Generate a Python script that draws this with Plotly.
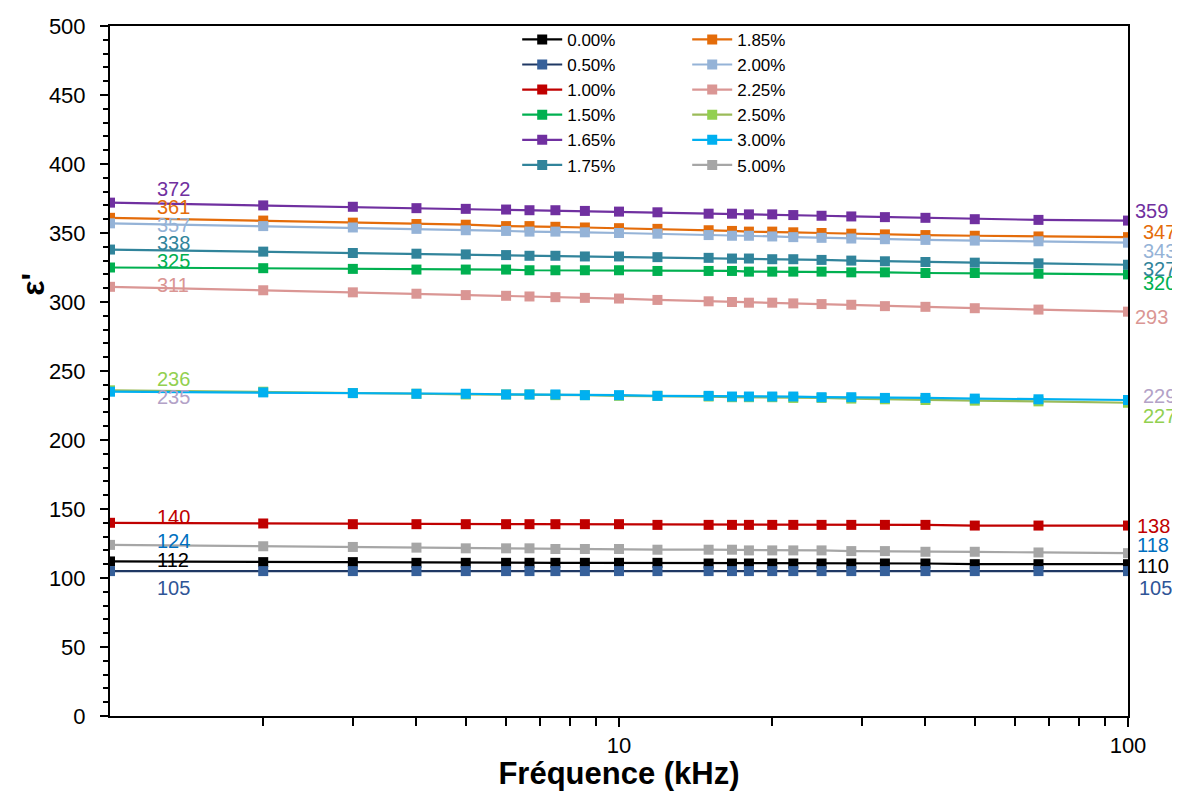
import plotly.graph_objects as go
import math

freq_khz = [1, 2, 3, 4, 5, 6, 6.67, 7.5, 8.57, 10, 11.9, 15, 16.67, 18, 20, 22, 25, 28.6, 33.3, 40, 50, 66.7, 100]

series_names = ["0.00%", "0.50%", "1.00%", "1.50%", "1.65%", "1.75%",
                "1.85%", "2.00%", "2.25%", "2.50%", "3.00%", "5.00%"]

eps_000 = [112, 111.5, 111.5, 111, 111, 111, 111, 111, 111, 111, 111, 110.5, 110.5, 110.5, 110.5, 110.5, 110.5, 110.5, 110.5, 110.5, 110, 110, 110]
eps_050 = [105, 105, 105, 105, 105, 105, 105, 105, 105, 105, 105, 105, 105, 105, 105, 105, 105, 105, 105, 105, 105, 105, 105]
eps_100 = [140, 139.5, 139, 139, 139, 139, 139, 139, 139, 139, 138.5, 138.5, 138.5, 138.5, 138.5, 138.5, 138.5, 138.5, 138.5, 138.5, 138, 138, 138]
eps_150 = [325, 324.5, 324, 323.5, 323.5, 323.5, 323, 323, 323, 323, 322.5, 322.5, 322.5, 322, 322, 322, 322, 321.5, 321.5, 321, 321, 320.5, 320]
eps_165 = [372, 370, 369, 368, 367.5, 367, 366.5, 366.5, 366, 365.5, 365, 364, 364, 363.5, 363.5, 363, 362.5, 362, 361.5, 361, 360, 359.5, 359]
eps_175 = [338, 336.5, 335.5, 335, 334.5, 334, 333.5, 333.5, 333, 333, 332.5, 332, 331.5, 331.5, 331, 331, 330.5, 330, 329.5, 329, 328.5, 328, 327]
eps_185 = [361, 359, 357.5, 356.5, 356, 355, 355, 354.5, 354, 353.5, 353, 352, 351.5, 351, 351, 350.5, 350, 349.5, 349, 348.5, 348, 347.5, 347]
eps_200 = [357, 355, 354, 353, 352, 351.5, 351, 351, 350.5, 350, 349.5, 348.5, 348, 348, 347.5, 347, 346.5, 346, 345.5, 345, 344.5, 344, 343]
eps_225 = [311, 308.5, 307, 306, 305, 304.5, 304, 303.5, 303, 302.5, 301.5, 300.5, 300, 299.5, 299.5, 299, 298.5, 298, 297, 296.5, 295.5, 294.5, 293]
eps_250 = [236, 235, 234, 233.5, 233, 233, 233, 232.5, 232.5, 232, 232, 231.5, 231, 231, 231, 230.5, 230.5, 230, 229.5, 229, 228.5, 228, 227]
eps_300 = [235, 234.5, 234, 233.5, 233.5, 233, 233, 233, 232.5, 232.5, 232, 232, 231.5, 231.5, 231.5, 231.5, 231, 231, 230.5, 230.5, 230, 229.5, 229]
eps_500 = [124, 123, 122.5, 122, 121.5, 121.5, 121.5, 121, 121, 121, 120.5, 120.5, 120.5, 120, 120, 120, 120, 119.5, 119.5, 119, 119, 118.5, 118]

all_series = [eps_000, eps_050, eps_100, eps_150, eps_165, eps_175,
              eps_185, eps_200, eps_225, eps_250, eps_300, eps_500]

line_colors = ["#000000", "#1f3864", "#c00000", "#00b050", "#7030a0", "#31849b",
               "#e46c0a", "#95b3d7", "#da9694", "#9bbb59", "#00b0f0", "#a6a6a6"]
marker_colors = ["#000000", "#36609a", "#c00000", "#00b050", "#7030a0", "#31849b",
                 "#e46c0a", "#95b3d7", "#da9694", "#92d050", "#00b0f0", "#a6a6a6"]
label_colors = ["#000000", "#2f5597", "#c00000", "#00b050", "#7030a0", "#31849b",
                "#e46c0a", "#95b3d7", "#da9694", "#92d050", "#b3a2c7", "#0070c0"]
legend_ids = ["legend", "legend", "legend", "legend", "legend", "legend",
              "legend2", "legend2", "legend2", "legend2", "legend2", "legend2"]

# label text positions
left_label_y = [113, 93, 144, 329.5, 381.7, 343, 369, 356, 312, 244.5, 231.5, 127]
right_label_y = [109, 93, 138, 314, 365.7, 324, 350.5, 336.7, 289, 217.7, 232, 124]
right_label_f = [112, 113, 112, 115.5, 111, 115.5, 115.5, 115.5, 111, 115.5, 115.5, 112]
left_label_f = 1.33
LOG_SPAN = 2.0  # decades shown on the x axis (1 to 100 kHz)

FONT = "Liberation Sans, Arial, Helvetica, sans-serif"

fig = go.Figure()
for i, name in enumerate(series_names):
    fig.add_trace(go.Scatter(
        x=freq_khz, y=all_series[i], name=name, mode="lines+markers",
        line=dict(color=line_colors[i], width=2.2),
        marker=dict(symbol="square", size=10, color=marker_colors[i]),
        legend=legend_ids[i],
    ))

annotations = []
for i in range(len(series_names)):
    annotations.append(dict(
        x=math.log10(left_label_f) / LOG_SPAN, y=left_label_y[i], xref="paper", yref="y",
        text=str(int(round(all_series[i][0]))), showarrow=False,
        xanchor="center", yanchor="middle",
        font=dict(family=FONT, size=20, color=label_colors[i])))
    annotations.append(dict(
        x=math.log10(right_label_f[i]) / LOG_SPAN, y=right_label_y[i], xref="paper", yref="y",
        text=str(int(round(all_series[i][-1]))), showarrow=False,
        xanchor="center", yanchor="middle",
        font=dict(family=FONT, size=20, color=label_colors[i])))

annotations.append(dict(
    x=-0.076, y=0.626, xref="paper", yref="paper", text="<b>ε'</b>", showarrow=False,
    xanchor="center", yanchor="middle",
    textangle=-90, font=dict(family=FONT, size=32, color="#000000")))

legend_common = dict(
    font=dict(family=FONT, size=17, color="#000000"),
    bgcolor="rgba(0,0,0,0)", borderwidth=0, orientation="v",
    xanchor="left", yanchor="top", tracegroupgap=0, itemwidth=40,
)

fig.update_layout(
    width=1172, height=783,
    margin=dict(l=102, r=52, t=18, b=75, autoexpand=False),
    paper_bgcolor="white", plot_bgcolor="white",
    font=dict(family=FONT, size=22, color="#000000"),
    xaxis=dict(
        type="log", range=[0, 2],
        tickvals=[10, 100], ticktext=["10", "100"],
        ticks="outside", ticklen=9, tickwidth=1.5, tickcolor="#000000",
        showline=True, linecolor="#000000", linewidth=2, mirror=True,
        showgrid=False, zeroline=False,
        minor=dict(tickvals=[2, 3, 4, 5, 6, 7, 8, 9, 20, 30, 40, 50, 60, 70, 80, 90],
                   ticks="outside", ticklen=8, tickwidth=1.5, tickcolor="#000000", showgrid=False),
        title=dict(text="<b>Fréquence (kHz)</b>", font=dict(size=31), standoff=14),
        tickfont=dict(size=22), automargin=False,
    ),
    yaxis=dict(
        range=[0, 500], dtick=50, tick0=0,
        ticks="outside", ticklen=8, tickwidth=1.5, tickcolor="#000000",
        showline=True, linecolor="#000000", linewidth=2, mirror=True,
        showgrid=False, zeroline=False,
        minor=dict(dtick=10, ticks="outside", ticklen=5, tickwidth=1.5, tickcolor="#000000", showgrid=False),
        tickfont=dict(size=22), ticklabelstandoff=10, automargin=False,
    ),
    legend=dict(x=0.400, y=1.006, **legend_common),
    legend2=dict(x=0.567, y=1.006, **legend_common),
    annotations=annotations,
    showlegend=True,
)

fig.write_html("out.html")
